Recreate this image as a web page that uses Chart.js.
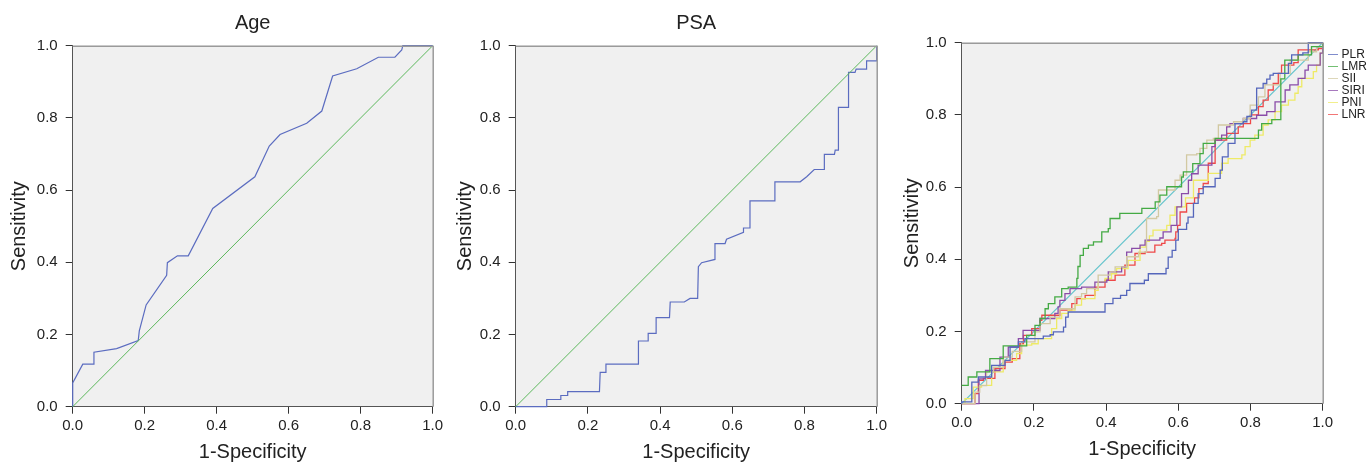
<!DOCTYPE html>
<html>
<head>
<meta charset="utf-8">
<script src="https://cdn.jsdelivr.net/npm/chart.js@4.4.1/dist/chart.umd.min.js"></script>
<style>
  html, body { margin: 0; padding: 0; background: #fff; overflow: hidden; }
  body { width: 1368px; height: 462px; position: relative; }
  canvas { position: absolute; display: block; }
</style>
</head>
<body>
<canvas id="chartAge" width="450" height="462" style="left:0;top:0"></canvas>
<canvas id="chartPsa" width="450" height="462" style="left:445px;top:0"></canvas>
<canvas id="chartAll" width="478" height="462" style="left:890px;top:-3px"></canvas>
<script>
// ── Datos: [1-especificidad, sensibilidad] ─────────────────────────────
const diagonal = [[0, 0], [1, 1]];

const agePoints = [[0, 0], [0, 0.066], [0.028, 0.118], [0.057, 0.118], [0.059, 0.151], [0.122, 0.161],
    [0.182, 0.183], [0.185, 0.21], [0.204, 0.282], [0.261, 0.364], [0.263, 0.399], [0.291, 0.418],
    [0.321, 0.418], [0.389, 0.549], [0.506, 0.637], [0.546, 0.722], [0.576, 0.754], [0.650, 0.785],
    [0.692, 0.819], [0.722, 0.916], [0.789, 0.936], [0.849, 0.968], [0.895, 0.968], [0.914, 0.988],
    [0.917, 1], [1, 1]];

const psaPoints = [[0, 0], [0.086, 0], [0.086, 0.020], [0.125, 0.020], [0.125, 0.031], [0.144, 0.031],
    [0.144, 0.042], [0.232, 0.042], [0.234, 0.095], [0.250, 0.095], [0.250, 0.118], [0.340, 0.118],
    [0.340, 0.182], [0.367, 0.182], [0.367, 0.203], [0.389, 0.203], [0.389, 0.247], [0.426, 0.247],
    [0.428, 0.290], [0.467, 0.290], [0.483, 0.300], [0.504, 0.300], [0.506, 0.388], [0.515, 0.399],
    [0.552, 0.408], [0.552, 0.452], [0.580, 0.452], [0.584, 0.464], [0.631, 0.483], [0.631, 0.495],
    [0.649, 0.495], [0.649, 0.570], [0.718, 0.570], [0.718, 0.623], [0.788, 0.623], [0.806, 0.637],
    [0.827, 0.657], [0.855, 0.657], [0.855, 0.699], [0.883, 0.699], [0.885, 0.711], [0.894, 0.711],
    [0.894, 0.829], [0.922, 0.829], [0.922, 0.926], [0.940, 0.926], [0.943, 0.935], [0.972, 0.935],
    [0.972, 0.958], [1, 0.958], [1, 1]];

const plrPoints = [[0, 0], [0, 0.005], [0.028, 0.060], [0.046, 0.074], [0.083, 0.106], [0.12, 0.12],
    [0.134, 0.157], [0.157, 0.171], [0.175, 0.180], [0.226, 0.187], [0.245, 0.191], [0.254, 0.199],
    [0.282, 0.212], [0.288, 0.240], [0.295, 0.254], [0.397, 0.277], [0.419, 0.292], [0.440, 0.300],
    [0.457, 0.314], [0.466, 0.333], [0.506, 0.342], [0.517, 0.360], [0.566, 0.375], [0.572, 0.406],
    [0.583, 0.425], [0.593, 0.453], [0.600, 0.483], [0.623, 0.500], [0.627, 0.517], [0.642, 0.555],
    [0.655, 0.582], [0.669, 0.601], [0.702, 0.624], [0.716, 0.647], [0.722, 0.684], [0.738, 0.721],
    [0.757, 0.776], [0.780, 0.781], [0.790, 0.796], [0.803, 0.813], [0.817, 0.874], [0.835, 0.887],
    [0.845, 0.899], [0.854, 0.910], [0.863, 0.915], [0.905, 0.943], [0.914, 0.966], [0.945, 0.972],
    [0.960, 1], [1, 1]];

const lmrPoints = [[0, 0.051], [0.018, 0.074], [0.042, 0.088], [0.078, 0.125], [0.115, 0.160],
    [0.180, 0.189], [0.203, 0.217], [0.217, 0.236], [0.231, 0.263], [0.240, 0.277], [0.258, 0.296],
    [0.277, 0.319], [0.295, 0.323], [0.319, 0.347], [0.322, 0.380], [0.328, 0.411], [0.337, 0.430],
    [0.351, 0.439], [0.365, 0.448], [0.388, 0.476], [0.406, 0.485], [0.411, 0.513], [0.438, 0.527],
    [0.499, 0.541], [0.536, 0.559], [0.549, 0.578], [0.568, 0.601], [0.609, 0.628], [0.614, 0.642],
    [0.640, 0.665], [0.660, 0.693], [0.669, 0.721], [0.702, 0.735], [0.794, 0.735], [0.822, 0.758],
    [0.831, 0.776], [0.859, 0.787], [0.884, 0.900], [0.895, 0.952], [0.932, 0.966], [0.969, 0.989], [1, 1]];

const siiPoints = [[0, 0], [0.037, 0.032], [0.05, 0.05], [0.069, 0.088], [0.088, 0.101], [0.115, 0.129],
    [0.14, 0.145], [0.166, 0.171], [0.203, 0.199], [0.217, 0.222], [0.245, 0.240], [0.272, 0.263],
    [0.314, 0.296], [0.332, 0.305], [0.346, 0.319], [0.378, 0.356], [0.411, 0.365], [0.425, 0.379],
    [0.457, 0.407], [0.49, 0.42], [0.512, 0.453], [0.512, 0.513], [0.540, 0.518], [0.545, 0.592],
    [0.591, 0.619], [0.605, 0.633], [0.623, 0.689], [0.651, 0.693], [0.660, 0.707], [0.679, 0.730],
    [0.697, 0.735], [0.711, 0.772], [0.753, 0.781], [0.780, 0.790], [0.799, 0.827], [0.822, 0.850],
    [0.840, 0.883], [0.882, 0.915], [0.910, 0.952], [0.960, 0.975], [0.983, 0.989], [1, 1]];

const siriPoints = [[0, 0], [0.048, 0.004], [0.048, 0.069], [0.066, 0.092], [0.106, 0.129],
    [0.129, 0.157], [0.157, 0.180], [0.170, 0.203], [0.217, 0.236], [0.258, 0.250], [0.267, 0.268],
    [0.272, 0.286], [0.286, 0.305], [0.300, 0.319], [0.332, 0.323], [0.369, 0.337], [0.402, 0.342],
    [0.406, 0.365], [0.443, 0.379], [0.457, 0.420], [0.471, 0.430], [0.494, 0.439], [0.508, 0.453],
    [0.549, 0.459], [0.558, 0.476], [0.580, 0.494], [0.596, 0.545], [0.609, 0.582], [0.628, 0.619],
    [0.637, 0.637], [0.655, 0.661], [0.693, 0.712], [0.702, 0.730], [0.720, 0.744], [0.734, 0.767],
    [0.743, 0.776], [0.780, 0.790], [0.817, 0.799], [0.845, 0.809], [0.868, 0.836], [0.896, 0.869],
    [0.909, 0.883], [0.932, 0.901], [0.951, 0.924], [0.960, 0.938], [0.993, 0.971], [1, 0.975], [1, 1]];

const pniPoints = [[0, 0], [0.009, 0.014], [0.032, 0.046], [0.055, 0.051], [0.083, 0.088], [0.115, 0.120],
    [0.152, 0.139], [0.166, 0.162], [0.194, 0.166], [0.212, 0.180], [0.249, 0.208], [0.263, 0.236],
    [0.277, 0.250], [0.295, 0.259], [0.314, 0.273], [0.332, 0.291], [0.369, 0.314], [0.378, 0.337],
    [0.397, 0.347], [0.415, 0.360], [0.429, 0.374], [0.461, 0.397], [0.494, 0.434], [0.510, 0.450],
    [0.520, 0.465], [0.530, 0.481], [0.558, 0.481], [0.568, 0.494], [0.577, 0.522], [0.591, 0.545],
    [0.620, 0.570], [0.642, 0.619], [0.683, 0.638], [0.720, 0.666], [0.738, 0.679], [0.776, 0.689],
    [0.785, 0.712], [0.799, 0.730], [0.812, 0.744], [0.835, 0.772], [0.849, 0.786], [0.868, 0.809],
    [0.886, 0.827], [0.905, 0.841], [0.923, 0.860], [0.932, 0.878], [0.942, 0.901], [0.974, 0.920],
    [0.983, 0.938], [0.993, 0.971], [1, 1]];

const lnrPoints = [[0, 0], [0.037, 0.004], [0.037, 0.028], [0.046, 0.065], [0.060, 0.070], [0.092, 0.097],
    [0.120, 0.115], [0.140, 0.125], [0.161, 0.166], [0.171, 0.189], [0.194, 0.208], [0.217, 0.231],
    [0.222, 0.245], [0.272, 0.259], [0.305, 0.277], [0.319, 0.291], [0.342, 0.300], [0.369, 0.323],
    [0.397, 0.342], [0.425, 0.356], [0.452, 0.384], [0.480, 0.416], [0.508, 0.420], [0.535, 0.439],
    [0.554, 0.444], [0.563, 0.453], [0.591, 0.458], [0.593, 0.476], [0.598, 0.494], [0.605, 0.531],
    [0.623, 0.555], [0.645, 0.570], [0.657, 0.596], [0.669, 0.610], [0.683, 0.666], [0.702, 0.693],
    [0.702, 0.730], [0.734, 0.749], [0.766, 0.767], [0.780, 0.776], [0.800, 0.800], [0.822, 0.823],
    [0.835, 0.841], [0.849, 0.869], [0.863, 0.887], [0.877, 0.915], [0.886, 0.938], [0.920, 0.945],
    [0.932, 0.980], [0.988, 0.984], [1, 0.984], [1, 1]];

const tickValues = [0, 0.2, 0.4, 0.6, 0.8, 1.0];

const FONT = "'Liberation Sans', Arial, Helvetica, sans-serif";
const TEXT = "#222";

// ── Helpers ─────────────────────────────────────────────────
const toXY = pts => pts.map(p => ({ x: p[0], y: p[1] }));

function curve(label, pts, color, width, stepped) {
    return {
        label,
        data: toXY(pts),
        borderColor: color,
        borderWidth: width,
        pointRadius: 0,
        tension: 0,
        fill: false,
        stepped: stepped || false,
        clip: false
    };
}

// fondo gris y marco del área de trazado
const framePlugin = {
    id: "frame",
    beforeDraw(chart) {
        const { ctx, chartArea: a } = chart;
        ctx.save();
        ctx.fillStyle = "#f0f0f0";
        ctx.fillRect(a.left, a.top, a.right - a.left, a.bottom - a.top);
        ctx.restore();
    },
    afterDraw(chart) {
        const { ctx, chartArea: a } = chart;
        ctx.save();
        ctx.strokeStyle = "#9a9a9a";
        ctx.lineWidth = 1.5;
        ctx.beginPath();
        ctx.moveTo(a.left, a.top + 0.5);
        ctx.lineTo(a.right, a.top + 0.5);
        ctx.moveTo(a.right + 0.5, a.top);
        ctx.lineTo(a.right + 0.5, a.bottom);
        ctx.stroke();
        ctx.restore();
    }
};

// título centrado sobre el área de trazado
const titlePlugin = {
    id: "panelTitle",
    afterDraw(chart, args, opts) {
        if (!opts.text) return;
        const { ctx, chartArea: a } = chart;
        ctx.save();
        ctx.font = "20px " + FONT;
        ctx.fillStyle = TEXT;
        ctx.textAlign = "center";
        ctx.textBaseline = "middle";
        ctx.fillText(opts.text, (a.left + a.right) / 2, 23.4);
        ctx.restore();
    }
};

// leyenda a la derecha del tercer panel
const legendPlugin = {
    id: "rocLegend",
    afterDraw(chart, args, opts) {
        if (!opts.show) return;
        const { ctx } = chart;
        ctx.save();
        ctx.font = "12px " + FONT;
        ctx.textBaseline = "middle";
        ctx.textAlign = "left";
        chart.data.datasets.filter(d => d.label).forEach((d, i) => {
            const y = 57.5 + i * 12;
            ctx.strokeStyle = d.borderColor;
            ctx.globalAlpha = 0.75;
            ctx.lineWidth = 1;
            ctx.beginPath();
            ctx.moveTo(438, y);
            ctx.lineTo(448, y);
            ctx.stroke();
            ctx.globalAlpha = 1;
            ctx.fillStyle = TEXT;
            ctx.fillText(d.label, 451.5, y);
        });
        ctx.restore();
    }
};

function rocOptions(cfg) {
    const tickFont = { family: FONT, size: 15 };
    return {
        responsive: false,
        animation: false,
        events: [],
        layout: { padding: { top: 45.7, right: cfg.padRight, left: 0, bottom: 0 } },
        plugins: {
            legend: { display: false },
            tooltip: { enabled: false },
            panelTitle: { text: cfg.title },
            rocLegend: { show: cfg.legend }
        },
        scales: {
            x: {
                type: "linear", min: 0, max: 1,
                afterBuildTicks: s => { s.ticks = tickValues.map(v => ({ value: v })); },
                ticks: { callback: v => v.toFixed(1), font: tickFont, color: TEXT, padding: 3, maxRotation: 0, autoSkip: false },
                grid: { drawOnChartArea: false, drawTicks: true, tickLength: 7, color: "#333" },
                border: { display: true, color: "#555" },
                title: { display: true, text: "1-Specificity", color: TEXT, padding: 0, font: { family: FONT, size: 20, lineHeight: 1 } },
                afterFit: s => { s.height = 462 - 406.7; }
            },
            y: {
                type: "linear", min: 0, max: 1,
                afterBuildTicks: s => { s.ticks = tickValues.map(v => ({ value: v })); },
                ticks: { callback: v => v.toFixed(1), font: tickFont, color: TEXT, padding: 8, autoSkip: false },
                grid: { drawOnChartArea: false, drawTicks: true, tickLength: 7, color: "#333" },
                border: { display: true, color: "#555" },
                title: { display: true, text: "Sensitivity", color: TEXT, padding: { top: cfg.yTitlePad, bottom: 0 }, font: { family: FONT, size: 20, lineHeight: 1 } },
                afterFit: s => { s.width = cfg.yWidth; }
            }
        }
    };
}

const plugins = [framePlugin, titlePlugin, legendPlugin];

// ── Paneles ─────────────────────────────────────────────────
new Chart(document.getElementById("chartAge"), {
    type: "line",
    data: { datasets: [
        curve("", diagonal, "#5cb85c", 1),
        curve("", agePoints, "#5b6cc0", 1.2)
    ] },
    options: rocOptions({ title: "Age", yWidth: 72.7, padRight: 17.3, yTitlePad: 9 }),
    plugins
});

new Chart(document.getElementById("chartPsa"), {
    type: "line",
    data: { datasets: [
        curve("", diagonal, "#5cb85c", 1),
        curve("", psaPoints, "#5b6cc0", 1.2)
    ] },
    options: rocOptions({ title: "PSA", yWidth: 70.7, padRight: 18.3, yTitlePad: 10.5 }),
    plugins
});

new Chart(document.getElementById("chartAll"), {
    type: "line",
    data: { datasets: [
        curve("PLR", plrPoints, "#5566bb", 1.3, true),
        curve("LMR", lmrPoints, "#44aa44", 1.3, true),
        curve("SII", siiPoints, "#d2c9a2", 1.3, true),
        curve("SIRI", siriPoints, "#8a4ca8", 1.3, true),
        curve("PNI", pniPoints, "#eeea66", 1.3, true),
        curve("LNR", lnrPoints, "#ee4848", 1.3, true),
        curve("", diagonal, "#62c4cc", 1.2)
    ] },
    options: rocOptions({ title: "", legend: true, yWidth: 71.7, padRight: 45.3, yTitlePad: 12 }),
    plugins
});
</script>
</body>
</html>
